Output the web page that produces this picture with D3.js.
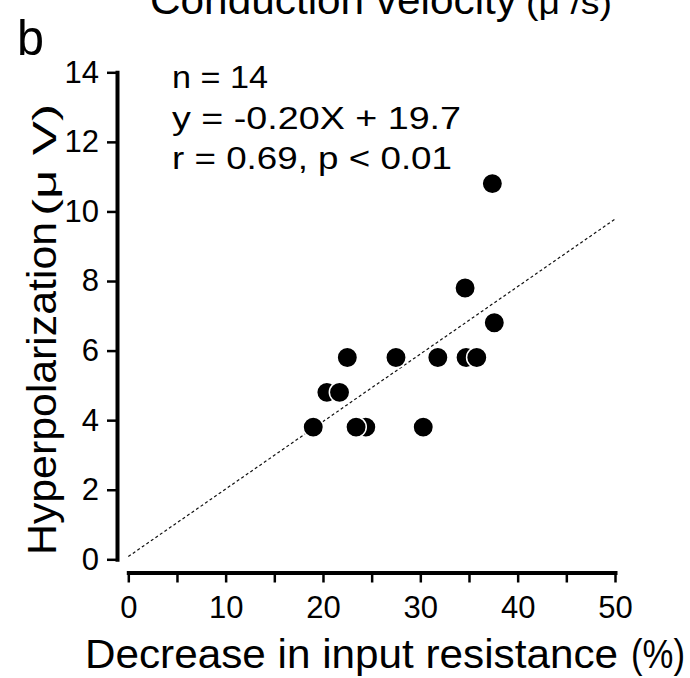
<!DOCTYPE html>
<html>
<head>
  <script src="https://d3js.org/d3.v7.min.js"></script>
  <style>
    body { margin: 0; background: #fff; }
    svg text { font-family: "Liberation Sans", Arial, Helvetica, sans-serif; fill: #000; }
    .axis path, .axis line { stroke: #000; }
    .axis text { font-size: 31px; }
  </style>
</head>
<body>
  <svg width="690" height="678"></svg>
  <script>
    // points, in drawing order (later ones sit on top)
    var decrease = [37.4, 34.6, 37.6, 22.5, 27.5, 31.8, 34.7, 35.8, 20.4, 21.7, 19.0, 24.4, 23.4, 30.3];
    var hyperpol = [10.8, 7.8, 6.8, 5.8, 5.8, 5.8, 5.8, 5.8, 4.8, 4.8, 3.8, 3.8, 3.8, 3.8];

    // fitted line as drawn
    var fitX = [0, 50];
    var fitY = [0.08, 9.78];

    var xTicks = [0, 5, 10, 15, 20, 25, 30, 35, 40, 45, 50];
    var yTicks = [0, 2, 4, 6, 8, 10, 12, 14];

    var statLines = ["n = 14", "y = -0.20X + 19.7", "r = 0.69, p < 0.01"];

    var svg = d3.select("svg");

    var x = d3.scaleLinear().domain([0, 50]).range([128.3, 615]),
      y = d3.scaleLinear().domain([0, 14]).range([559.3, 72.3]);

    // y axis
    var yAxisG = svg.append("g")
      .attr("class", "axis")
      .attr("transform", "translate(117,0)")
      .call(d3.axisLeft(y).tickValues(yTicks).tickSize(10).tickSizeOuter(0).tickPadding(8));
    yAxisG.select(".domain").attr("stroke-width", 4).attr("stroke-linecap", "square");
    yAxisG.selectAll(".tick line").attr("stroke-width", 2.5);

    // x axis
    var xAxisG = svg.append("g")
      .attr("class", "axis")
      .attr("transform", "translate(0,572.5)")
      .call(d3.axisBottom(x).tickValues(xTicks).tickSize(10).tickSizeOuter(0).tickPadding(13)
        .tickFormat(function(d) { return d % 10 === 0 ? d : ""; }));
    xAxisG.select(".domain").attr("stroke-width", 4).attr("stroke-linecap", "square");
    xAxisG.selectAll(".tick line").attr("stroke-width", 2.5);

    // dashed fit line
    var line = d3.line()
      .x(function(d) { return x(d[0]); })
      .y(function(d) { return y(d[1]); });
    svg.append("path")
      .datum(d3.zip(fitX, fitY))
      .attr("d", line)
      .attr("fill", "none")
      .attr("stroke", "#111")
      .attr("stroke-width", 1.2)
      .attr("stroke-dasharray", "3,2.5");

    // points
    svg.append("g").selectAll("circle")
      .data(d3.zip(decrease, hyperpol))
      .enter().append("circle")
      .attr("cx", function(d) { return x(d[0]); })
      .attr("cy", function(d) { return y(d[1]); })
      .attr("r", 10.2)
      .attr("fill", "#000")
      .attr("stroke", "#fff")
      .attr("stroke-width", 1.5);

    // stretched text helper: width is the target drawn width
    function label(g, str, px, py, size, width) {
      return g.append("text")
        .attr("x", px).attr("y", py)
        .attr("font-size", size)
        .attr("textLength", width)
        .attr("lengthAdjust", "spacingAndGlyphs")
        .text(str);
    }

    // stats block
    var stats = svg.append("g");
    label(stats, statLines[0], 172, 88, 31, 96);
    label(stats, statLines[1], 172, 129, 31, 289);
    label(stats, statLines[2], 172, 169, 31, 280);

    // panel letter and the cut-off title above
    label(svg, "b", 17, 55, 50, 27);
    label(svg, "Conduction velocity", 150, 14, 41, 367);
    label(svg, "(\u03bc /s)", 526, 14, 33, 86);

    // axis titles
    label(svg, "Decrease in input resistance", 85, 668, 41, 533);
    label(svg, "(%)", 631, 668, 41, 54);

    var yt = svg.append("g").attr("transform", "translate(56,0) rotate(-90)");
    label(yt, "Hyperpolarization", -555, 0, 40, 333);
    label(yt, "(\u03bc V)", -216, 0, 34, 112);
  </script>
</body>
</html>
